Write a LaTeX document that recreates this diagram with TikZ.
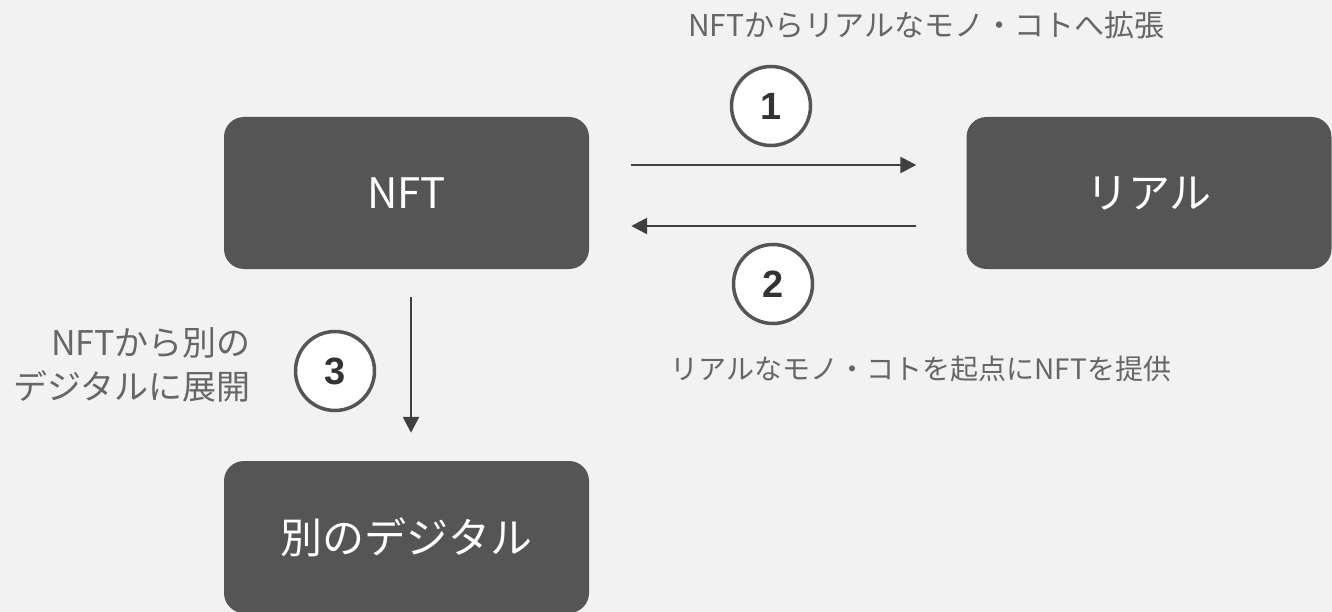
\documentclass[tikz,border=0pt]{standalone}
\usepackage{fontspec}
\setmainfont{Noto Sans CJK JP}
\newfontfamily\jpfont{Noto Sans CJK JP}
\newfontfamily\numfont{Liberation Sans}
\usetikzlibrary{arrows.meta}
\definecolor{bg}{HTML}{F2F2F2}
\definecolor{boxfill}{HTML}{555555}
\definecolor{arrowc}{HTML}{404040}
\definecolor{txtc}{HTML}{666666}
\definecolor{numc}{HTML}{333333}
\definecolor{ringc}{HTML}{555555}
\tikzset{
  box/.style={rectangle, rounded corners=20pt, fill=boxfill, text=white,
    minimum width=365pt, minimum height=152pt, inner sep=0pt,
    font=\jpfont\fontsize{42}{50}\selectfont},
  conn/.style={draw=arrowc, line width=2.6pt, -{Triangle[length=16pt,width=16pt]}},
  badge/.style={circle, draw=ringc, line width=3.5pt, fill=white,
    minimum size=79pt, inner sep=0pt, text=numc,
    font=\numfont\bfseries\fontsize{38}{40}\selectfont},
  lbltop/.style={text=txtc, inner sep=0pt, font=\jpfont\fontsize{30}{40}\selectfont},
  lblbot/.style={text=txtc, inner sep=0pt, font=\jpfont\fontsize{28}{40}\selectfont},
  sidelbl/.style={text=txtc, inner sep=0pt, align=right, font=\jpfont\fontsize{34}{44}\selectfont}
}
\begin{document}
\begin{tikzpicture}[x=1pt,y=-1pt]
\fill[bg] (0,0) rectangle (1332,612);
\useasboundingbox (0,0) rectangle (1332,612);
\node[box] (nft) at (406.5,193) {NFT};
\node[box] (real) at (1149,193) {リアル};
\node[box] (dig) at (406.5,537) {別のデジタル};
\draw[conn] ([shift={(42,-28)}]nft.east) -- ([shift={(-50,-28)}]real.west);
\draw[conn] ([shift={(-50,33)}]real.west) -- ([shift={(42,33)}]nft.east);
\draw[conn] ([shift={(4.5,28)}]nft.south) -- ([shift={(4.5,-28)}]dig.north);
\node[badge] (b1) at (771,106) {1};
\node[badge] (b2) at (773,284) {2};
\node[badge] (b3) at (335,371) {3};
\node[lbltop, anchor=base] (t1) at (926,37) {NFTからリアルなモノ・コトへ拡張};
\node[lblbot, anchor=base] (t2) at (921,379) {リアルなモノ・コトを起点にNFTを提供};
\node[sidelbl, anchor=east] (t3) at (251,365) {NFTから別の\\デジタルに展開};
\end{tikzpicture}
\end{document}
